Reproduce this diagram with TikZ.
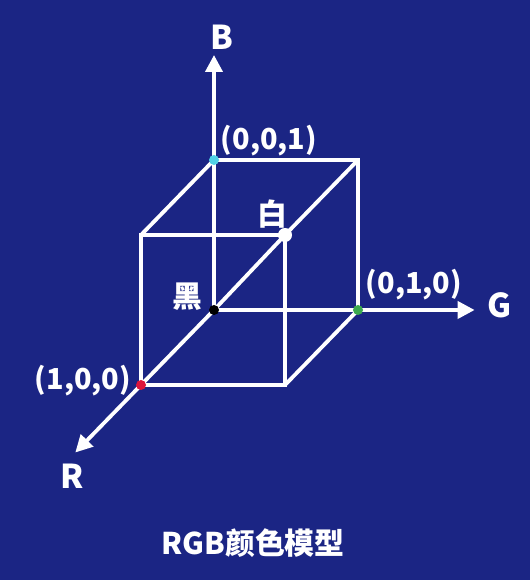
\documentclass[tikz,border=0pt]{standalone}
\usepackage{fontspec}
\setmainfont{Noto Sans CJK SC}[BoldFont={Noto Sans CJK SC Black}]
\usetikzlibrary{arrows.meta}
\definecolor{navy}{RGB}{27,37,132}
\definecolor{dotcyan}{RGB}{80,210,230}
\definecolor{dotgreen}{RGB}{60,170,80}
\definecolor{dotred}{RGB}{220,20,60}

\begin{document}
\begin{tikzpicture}[
    x=1bp, y=1bp,
    edge/.style={white, line width=3.8bp},
    axis/.style={edge, -{Triangle[length=17bp, width=17bp]}},
    corner/.style={circle, inner sep=0pt, minimum size=10bp},
    axislabel/.style={text=white, font=\fontsize{33}{33}\selectfont\bfseries, inner sep=0pt},
    coordlabel/.style={text=white, font=\fontsize{29}{29}\selectfont\bfseries, inner sep=0pt},
    hanlabel/.style={text=white, font=\fontsize{30}{30}\selectfont\bfseries, inner sep=0pt}
]
\fill[navy] (0,0) rectangle (530,580);
\useasboundingbox (0,0) rectangle (530,580);

% Cube corners
\begin{scope}[shift={(214,270)}, x={(-73bp,-75bp)}, y={(144bp,0bp)}, z={(0bp,150bp)}]
\coordinate (k) at (0,0,0);
\coordinate (r) at (1,0,0);
\coordinate (g) at (0,1,0);
\coordinate (b) at (0,0,1);
\coordinate (rg) at (1,1,0);
\coordinate (rb) at (1,0,1);
\coordinate (gb) at (0,1,1);
\coordinate (w) at (1,1,1);
\coordinate (rtip) at (1.9,0,0);
\coordinate (gtip) at (0,1.81,0);
\coordinate (btip) at (0,0,1.7);
\end{scope}

% Edges
\draw[edge] (r) -- (rg) -- (w) -- (rb) -- cycle;
\draw[edge] (b) -- (gb) -- (g);
\draw[edge] (b) -- (rb);
\draw[edge] (gb) -- (w);
\draw[edge] (g) -- (rg);
\draw[edge] (k) -- (w);

% Axes
\draw[axis] (k) -- (btip);
\draw[axis] (k) -- (gtip);
\draw[axis] (k) -- (rtip);

% Corner dots
\node[corner, fill=black] at (k) {};
\node[corner, fill=dotcyan] at (b) {};
\node[corner, fill=dotgreen] at (g) {};
\node[corner, fill=dotred] at (r) {};
\node[corner, fill=white, minimum size=14bp] at (w) {};

% Labels
\node (blabel) [axislabel] at (222,543) {B};
\node (glabel) [axislabel] at (500,275) {G};
\node (rlabel) [axislabel] at (72,104) {R};
\node (bcoord) [coordlabel] at (269,439) {(0,0,1)};
\node (gcoord) [coordlabel] at (414,295) {(0,1,0)};
\node (rcoord) [coordlabel] at (83,199) {(1,0,0)};
\node (white) [hanlabel] at (272,366) {白};
\node (black) [hanlabel] at (187,283) {黑};
\node (title) [hanlabel] at (253,37) {RGB颜色模型};

\end{tikzpicture}
\end{document}
